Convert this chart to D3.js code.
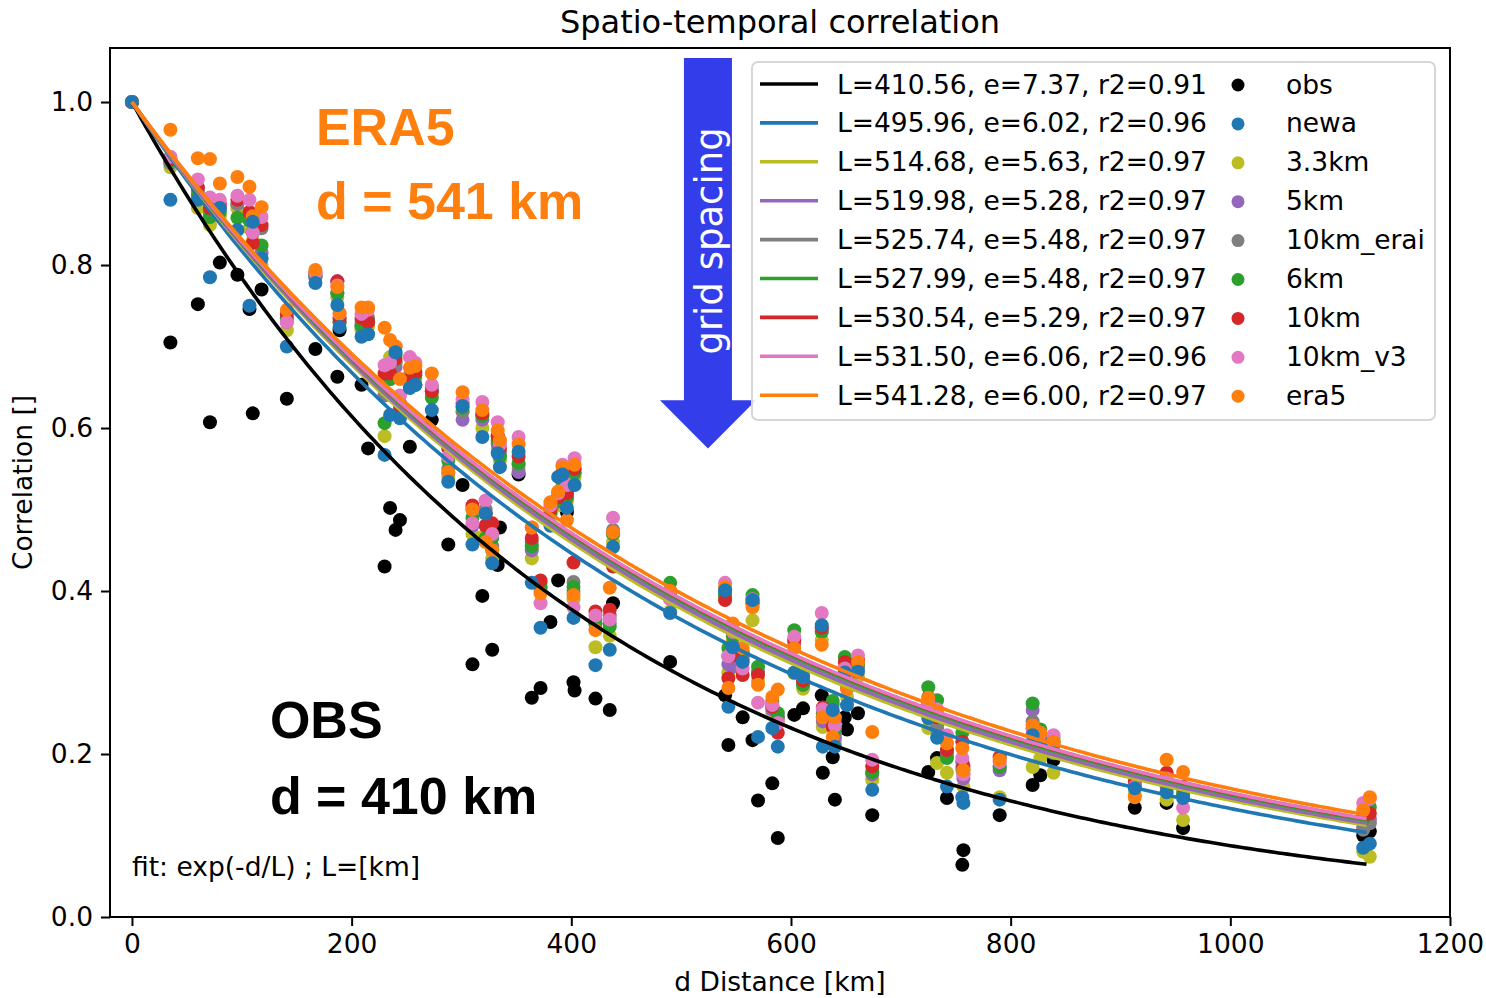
<!DOCTYPE html>
<html>
<head>
<meta charset="utf-8">
<script src="https://cdn.jsdelivr.net/npm/d3@7/dist/d3.min.js"></script>
<style>
body { margin: 0; background: #fff; }
svg text { font-family: "DejaVu Sans", sans-serif; fill: #000; }
</style>
</head>
<body>
<div id="chart"></div>
<script>
// station pair distances [km]
const distances = [0,35,60,71,80,96,107,110,118,141, 167,187,189,209,215,230,235,240,244,253,
	258,273,288,301,310,319,322,328,333,335, 352,364,372,381,388,392,396,402,403,422,
	435,438,490,540,543,547,556,565,570,583, 588,603,611,628,629,638,640,649,651,661,
	674,725,733,742,756,757,790,820,827,839, 913,942,957,1121,1127];

// correlation per dataset, one value per distance
const obs = [1,.705,.752,.607,.803,.788,.746,.618,.770,.636, .697,.663,.720,.653,.575,.430,.502,.475,.487,.577,
	.653,.610,.457,.530,.310,.394,.495,.328,.432,.478, .543,.269,.281,.362,.413,.543,.497,.288,.278,.268,
	.254,.385,.313,.272,.211,.319,.245,.217,.143,.164, .097,.248,.256,.272,.177,.196,.144,.245,.230,.250,
	.125,.178,.195,.146,.064,.082,.125,.162,.174,.193, .134,.140,.109,.100,.105];
const newa = [1,.880,.880,.785,.870,.843,.750,.853,.808,.700, .778,.751,.724,.712,.715,.567,.616,.693,.612,.649,
	.653,.622,.534,.627,.457,.589,.495,.434,.569,.552, .571,.410,.355,.480,.540,.543,.502,.367,.530,.309,
	.328,.454,.373,.401,.258,.331,.313,.389,.221,.232, .209,.300,.295,.358,.209,.254,.209,.300,.260,.301,
	.156,.244,.220,.160,.147,.140,.144,.223,.210,.201, .158,.153,.146,.085,.090];
const km33 = [1,.920,.870,.849,.860,.870,.845,.830,.800,.720, .785,.760,.730,.720,.725,.590,.687,.680,.620,.655,
	.660,.640,.540,.620,.470,.600,.470,.440,.575,.560, .550,.440,.400,.490,.505,.530,.510,.390,.540,.331,
	.345,.460,.375,.390,.300,.340,.320,.364,.290,.250, .240,.299,.280,.340,.233,.240,.215,.290,.270,.295,
	.168,.232,.189,.177,.180,.160,.147,.184,.195,.177, .150,.144,.119,.080,.074];
const km5 = [1,.925,.890,.860,.870,.875,.855,.840,.815,.730, .785,.780,.730,.725,.730,.640,.660,.675,.630,.660,
	.665,.645,.545,.610,.480,.610,.480,.450,.580,.565, .546,.450,.405,.495,.510,.535,.515,.400,.545,.360,
	.360,.470,.390,.395,.310,.307,.315,.385,.300,.255, .245,.335,.285,.350,.240,.250,.220,.300,.280,.305,
	.175,.270,.230,.200,.190,.170,.180,.254,.215,.210, .160,.160,.150,.110,.120];
const km10erai = [1,.925,.895,.865,.870,.875,.860,.840,.845,.735, .787,.766,.735,.730,.735,.640,.665,.680,.630,.665,
	.670,.650,.550,.620,.500,.615,.500,.455,.590,.570, .555,.460,.410,.500,.515,.540,.520,.411,.550,.365,
	.370,.475,.395,.398,.320,.335,.320,.390,.300,.260, .245,.340,.290,.355,.245,.260,.225,.305,.285,.310,
	.178,.265,.235,.205,.184,.175,.185,.240,.220,.215, .160,.165,.155,.107,.115];
const km6 = [1,.928,.885,.859,.865,.858,.855,.840,.824,.735, .787,.765,.730,.725,.730,.606,.660,.690,.625,.660,
	.665,.637,.560,.625,.490,.615,.465,.465,.585,.565, .557,.455,.405,.495,.510,.535,.515,.405,.545,.360,
	.356,.470,.410,.395,.330,.345,.325,.395,.307,.265, .250,.352,.285,.350,.250,.265,.230,.319,.290,.310,
	.178,.282,.266,.195,.226,.180,.184,.262,.230,.220, .162,.165,.150,.120,.135];
const km10 = [1,.930,.895,.870,.875,.880,.865,.827,.849,.740, .790,.780,.735,.735,.730,.667,.667,.685,.620,.660,
	.668,.645,.575,.630,.505,.618,.480,.483,.590,.575, .565,.465,.413,.500,.515,.545,.520,.435,.550,.375,
	.377,.430,.400,.389,.293,.321,.297,.385,.297,.258, .226,.340,.290,.355,.257,.233,.240,.313,.295,.315,
	.185,.260,.245,.205,.215,.185,.196,.232,.225,.215, .166,.177,.160,.125,.127];
const km10v3 = [1,.933,.905,.883,.880,.885,.880,.840,.859,.730, .790,.775,.740,.740,.745,.677,.680,.700,.640,.687,
	.680,.653,.565,.635,.483,.632,.511,.470,.607,.580, .589,.478,.385,.505,.520,.555,.530,.380,.563,.370,
	.365,.490,.390,.410,.320,.350,.305,.390,.263,.260, .238,.344,.295,.373,.255,.250,.235,.305,.290,.321,
	.193,.265,.255,.223,.195,.175,.190,.230,.225,.223, .160,.170,.134,.140,.145];
const era5 = [1,.966,.931,.930,.900,.908,.896,.860,.871,.745, .794,.773,.741,.748,.748,.723,.708,.700,.660,.674,
	.676,.667,.546,.644,.500,.622,.460,.450,.597,.585, .580,.478,.397,.509,.522,.552,.487,.395,.555,.352,
	.404,.472,.400,.405,.281,.360,.330,.380,.285,.270, .279,.330,.300,.334,.245,.221,.245,.300,.280,.313,
	.227,.269,.250,.213,.207,.180,.193,.235,.226,.215, .147,.193,.178,.131,.147];

const seriesNames = ['obs','newa','3.3km','5km','10km_erai','6km','10km','10km_v3','era5'];
const seriesValues = [obs, newa, km33, km5, km10erai, km6, km10, km10v3, era5];
const seriesColors = ['#000000','#1f77b4','#bcbd22','#9467bd','#7f7f7f','#2ca02c','#d62728','#e377c2','#ff7f0e'];

// fit exp(-d/L)
const fitL = [410.56, 495.96, 514.68, 519.98, 525.74, 527.99, 530.54, 531.50, 541.28];
const fitE = [7.37, 6.02, 5.63, 5.28, 5.48, 5.48, 5.29, 6.06, 6.00];
const fitR2 = [0.91, 0.96, 0.97, 0.97, 0.97, 0.97, 0.97, 0.96, 0.97];

const xTicks = [0, 200, 400, 600, 800, 1000, 1200];
const yTicks = [0.0, 0.2, 0.4, 0.6, 0.8, 1.0];

const W = 1486, H = 998;
const margin = { top: 48, right: 36, bottom: 81, left: 110 };
const fs = 26.5;

const svg = d3.select('#chart').append('svg')
	.attr('width', W)
	.attr('height', H);

const x = d3.scaleLinear().domain([-20, 1200]).range([margin.left, W - margin.right]);
const y = d3.scaleLinear().domain([0, 1.0663]).range([H - margin.bottom, margin.top]);

// scatter, newa on top
const drawOrder = [0, 2, 3, 4, 5, 6, 7, 8, 1];
drawOrder.forEach(si => {
	svg.append('g').selectAll('circle')
		.data(distances.map((d, i) => ({ d: d, v: seriesValues[si][i] })))
		.join('circle')
		.attr('cx', p => x(p.d))
		.attr('cy', p => y(p.v))
		.attr('r', 7)
		.attr('fill', seriesColors[si]);
});

// fitted curves
const dMax = d3.max(distances);
const curveD = d3.range(0, dMax + 1, 4);
const line = d3.line().x(p => x(p[0])).y(p => y(p[1]));
fitL.forEach((L, si) => {
	svg.append('path')
		.attr('d', line(curveD.map(d => [d, Math.exp(-d / L)])))
		.attr('fill', 'none')
		.attr('stroke', seriesColors[si])
		.attr('stroke-width', 3.6);
});

// axes
const xAxis = svg.append('g')
	.attr('transform', `translate(0,${H - margin.bottom})`)
	.call(d3.axisBottom(x).tickValues(xTicks).tickSize(9).tickPadding(8).tickFormat(d3.format('d')));
const yAxis = svg.append('g')
	.attr('transform', `translate(${margin.left},0)`)
	.call(d3.axisLeft(y).tickValues(yTicks).tickSize(9).tickPadding(8).tickFormat(d3.format('.1f')));
[xAxis, yAxis].forEach(a => {
	a.select('.domain').remove();
	a.selectAll('line').attr('stroke', '#000').attr('stroke-width', 2);
	a.selectAll('text').attr('font-size', fs).attr('font-family', '"DejaVu Sans", sans-serif').attr('fill', '#000');
});

svg.append('rect')
	.attr('x', margin.left).attr('y', margin.top)
	.attr('width', W - margin.left - margin.right)
	.attr('height', H - margin.top - margin.bottom)
	.attr('fill', 'none').attr('stroke', '#000').attr('stroke-width', 2);

// titles
svg.append('text').attr('x', (margin.left + W - margin.right) / 2).attr('y', 33)
	.attr('text-anchor', 'middle').attr('font-size', 32).text('Spatio-temporal correlation');
svg.append('text').attr('x', (margin.left + W - margin.right) / 2).attr('y', 991)
	.attr('text-anchor', 'middle').attr('font-size', fs).text('d Distance [km]');
svg.append('text').attr('transform', `translate(32,${(margin.top + H - margin.bottom) / 2}) rotate(-90)`)
	.attr('text-anchor', 'middle').attr('font-size', fs).text('Correlation []');

// annotations
function addText(xv, yv, txt, size, color, weight, family) {
	return svg.append('text')
		.attr('x', x(xv)).attr('y', y(yv))
		.attr('font-size', size).attr('font-weight', weight)
		.style('font-family', family)
		.style('fill', color)
		.text(txt);
}
const bigFont = '"Liberation Sans", Arial, sans-serif';
addText(167.5, 0.947, 'ERA5', 52, '#ff7f0e', 'bold', bigFont);
addText(167.5, 0.856, 'd = 541 km', 52, '#ff7f0e', 'bold', bigFont);
addText(125.6, 0.2196, 'OBS', 52, '#000', 'bold', bigFont);
addText(125.6, 0.1264, 'd = 410 km', 52, '#000', 'bold', bigFont);
addText(0, 0.05, 'fit: exp(-d/L) ; L=[km]', fs, '#000', 'normal', '"DejaVu Sans", sans-serif');

// grid spacing arrow
const arrow = { x: 524.4, top: 1.054, neck: 0.634, tip: 0.575, shaft: 24, head: 48 };
const ax = x(arrow.x);
svg.append('path')
	.attr('d', `M${ax - arrow.shaft},${y(arrow.top)} L${ax + arrow.shaft},${y(arrow.top)} L${ax + arrow.shaft},${y(arrow.neck)}
		L${ax + arrow.head},${y(arrow.neck)} L${ax},${y(arrow.tip)} L${ax - arrow.head},${y(arrow.neck)}
		L${ax - arrow.shaft},${y(arrow.neck)} Z`)
	.attr('fill', 'rgb(51,62,234)');
svg.append('text')
	.attr('transform', `translate(${ax + 2},${y(0.8295)}) rotate(-90)`)
	.attr('text-anchor', 'middle').attr('dominant-baseline', 'central')
	.attr('font-size', 37).style('fill', '#fff')
	.text('grid spacing');

// legend
const legend = svg.append('g').attr('class', 'legend');
legend.append('rect')
	.attr('x', 752).attr('y', 62).attr('width', 683).attr('height', 358).attr('rx', 6)
	.attr('fill', '#fff').attr('fill-opacity', 0.85)
	.attr('stroke', '#d6d6d6').attr('stroke-width', 2);
const rowY = i => 84 + i * 38.9;
seriesNames.forEach((name, i) => {
	legend.append('line')
		.attr('x1', 760).attr('x2', 818).attr('y1', rowY(i)).attr('y2', rowY(i))
		.attr('stroke', seriesColors[i]).attr('stroke-width', 3.6);
	legend.append('text')
		.attr('x', 837).attr('y', rowY(i)).attr('dominant-baseline', 'central')
		.attr('font-size', fs)
		.text(`L=${fitL[i].toFixed(2)}, e=${fitE[i].toFixed(2)}, r2=${fitR2[i].toFixed(2)}`);
	legend.append('circle')
		.attr('cx', 1238).attr('cy', rowY(i) + 1).attr('r', 6.5)
		.attr('fill', seriesColors[i]);
	legend.append('text')
		.attr('x', 1286).attr('y', rowY(i)).attr('dominant-baseline', 'central')
		.attr('font-size', fs)
		.text(name);
});
</script>
</body>
</html>
